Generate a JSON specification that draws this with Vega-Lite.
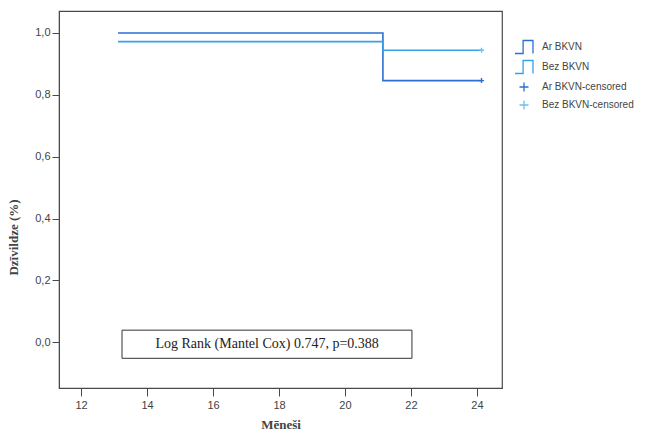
{
  "$schema": "https://vega.github.io/schema/vega-lite/v6.json",
  "width": 443,
  "height": 377,
  "autosize": {"type": "none"},
  "padding": {"left": 59, "top": 11, "right": 144, "bottom": 50},
  "background": "white",
  "config": {
    "view": {"stroke": "#4a4a4a", "strokeWidth": 1.2},
    "font": "Liberation Sans",
    "axis": {"grid": false, "domainColor": "#4a4a4a", "tickColor": "#4a4a4a", "labelColor": "#444", "labelFontSize": 11, "titleFont": "Liberation Serif", "titleFontWeight": "bold", "titleFontSize": 13, "titleColor": "#444"}
  },
  "datasets": {
    "curves": [
      {"grp": "Ar BKVN", "month": 13.12, "surv": 1.0},
      {"grp": "Ar BKVN", "month": 21.15, "surv": 0.846},
      {"grp": "Ar BKVN", "month": 24.14, "surv": 0.846},
      {"grp": "Bez BKVN", "month": 13.12, "surv": 0.972},
      {"grp": "Bez BKVN", "month": 21.15, "surv": 0.944},
      {"grp": "Bez BKVN", "month": 24.14, "surv": 0.944}
    ],
    "censored": [
      {"grp": "Ar BKVN-censored", "month": 24.14, "surv": 0.846},
      {"grp": "Bez BKVN-censored", "month": 24.14, "surv": 0.944}
    ],
    "note": [
      {"x1": 13.24, "x2": 22.03, "y1": 0.039, "y2": -0.052, "xm": 17.64, "ym": -0.006, "label": "Log Rank (Mantel Cox) 0.747, p=0.388"}
    ]
  },
  "layer": [
    {
      "data": {"name": "curves"},
      "mark": {"type": "line", "interpolate": "step-after", "strokeWidth": 1.6},
      "encoding": {
        "x": {
          "field": "month", "type": "quantitative",
          "scale": {"domain": [11.33, 24.76], "nice": false, "zero": false},
          "axis": {"values": [12, 14, 16, 18, 20, 22, 24], "title": "Mēneši", "tickSize": 8, "labelPadding": 3, "titlePadding": 8, "domain": true}
        },
        "y": {
          "field": "surv", "type": "quantitative",
          "scale": {"domain": [-0.148, 1.071], "nice": false, "zero": false},
          "axis": {"values": [0, 0.2, 0.4, 0.6, 0.8, 1.0], "labelExpr": "replace(format(datum.value, '.1f'), '.', ',')", "title": "Dzīvildze (%)", "tickSize": 7, "labelPadding": 2, "titleX": -39, "titleY": 226}
        },
        "color": {
          "field": "grp", "type": "nominal",
          "scale": {"domain": ["Ar BKVN", "Bez BKVN", "Ar BKVN-censored", "Bez BKVN-censored"], "range": ["#2b6fd4", "#35a2e6", "#2b6fd4", "#6cc0ee"]},
          "legend": {"title": null, "orient": "none", "legendX": 455, "legendY": 26, "labelFontSize": 10, "labelColor": "#444", "symbolSize": 324, "symbolStrokeWidth": 1.3, "rowPadding": 0, "labelOffset": 8}
        }
      }
    },
    {
      "data": {"name": "censored"},
      "mark": {"type": "point", "filled": false, "size": 100, "strokeWidth": 1.4, "opacity": 1},
      "encoding": {
        "x": {"field": "month", "type": "quantitative"},
        "y": {"field": "surv", "type": "quantitative"},
        "color": {"field": "grp", "type": "nominal"},
        "shape": {
          "field": "grp", "type": "nominal",
          "scale": {"domain": ["Ar BKVN", "Bez BKVN", "Ar BKVN-censored", "Bez BKVN-censored"], "range": ["M-1,0.72H-0.1V-0.72H1V0.72", "M-1,0.72H-0.1V-0.72H1V0.72", "M-0.5,0H0.5M0,-0.5V0.5", "M-0.5,0H0.5M0,-0.5V0.5"]},
          "legend": {"title": null, "orient": "none", "legendX": 455, "legendY": 26, "labelFontSize": 10, "labelColor": "#444", "symbolSize": 324, "symbolStrokeWidth": 1.3, "rowPadding": 0, "labelOffset": 8}
        }
      }
    },
    {
      "data": {"name": "note"},
      "mark": {"type": "rect", "fill": "white", "stroke": "#333", "strokeWidth": 1},
      "encoding": {
        "x": {"field": "x1", "type": "quantitative"},
        "x2": {"field": "x2"},
        "y": {"field": "y1", "type": "quantitative"},
        "y2": {"field": "y2"}
      }
    },
    {
      "data": {"name": "note"},
      "mark": {"type": "text", "font": "Liberation Serif", "fontSize": 14, "color": "#222"},
      "encoding": {
        "x": {"field": "xm", "type": "quantitative"},
        "y": {"field": "ym", "type": "quantitative"},
        "text": {"field": "label"}
      }
    }
  ]
}
